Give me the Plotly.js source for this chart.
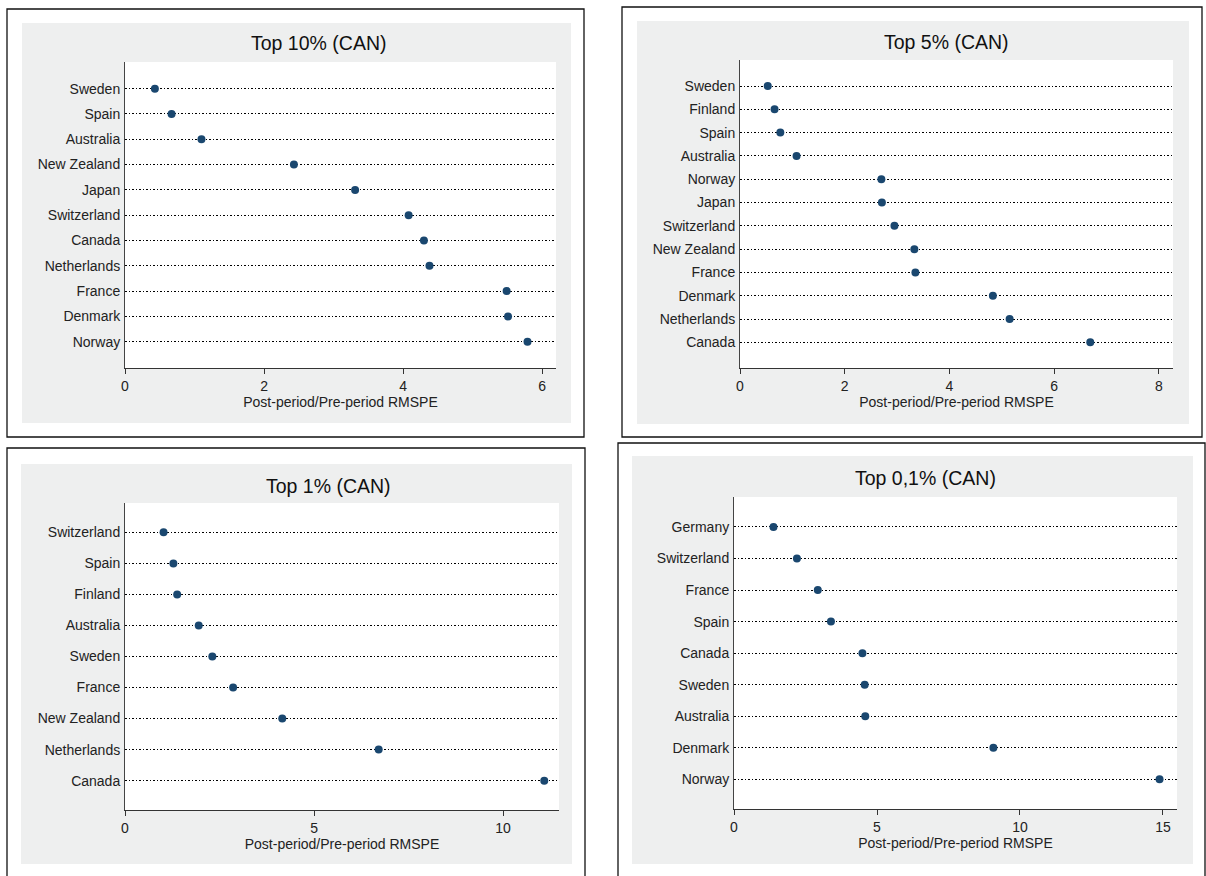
<!DOCTYPE html>
<html>
<head>
<meta charset="utf-8">
<script src="https://cdn.plot.ly/plotly-3.0.1.min.js"></script>
<style>
  html, body { margin: 0; padding: 0; background: #ffffff; }
  #chart { width: 1206px; height: 876px; }
</style>
</head>
<body>
<div id="chart"></div>
<script>
// ---------------- data ----------------
var top10Countries = ["Sweden", "Spain", "Australia", "New Zealand", "Japan", "Switzerland", "Canada", "Netherlands", "France", "Denmark", "Norway"];
var top10Values    = [0.43, 0.67, 1.10, 2.43, 3.31, 4.08, 4.30, 4.38, 5.49, 5.51, 5.79];

var top5Countries  = ["Sweden", "Finland", "Spain", "Australia", "Norway", "Japan", "Switzerland", "New Zealand", "France", "Denmark", "Netherlands", "Canada"];
var top5Values     = [0.53, 0.66, 0.77, 1.08, 2.70, 2.71, 2.95, 3.33, 3.35, 4.83, 5.15, 6.69];

var top1Countries  = ["Switzerland", "Spain", "Finland", "Australia", "Sweden", "France", "New Zealand", "Netherlands", "Canada"];
var top1Values     = [1.02, 1.28, 1.38, 1.95, 2.31, 2.86, 4.16, 6.71, 11.09];

var top01Countries = ["Germany", "Switzerland", "France", "Spain", "Canada", "Sweden", "Australia", "Denmark", "Norway"];
var top01Values    = [1.38, 2.20, 2.93, 3.39, 4.49, 4.57, 4.59, 9.07, 14.88];

var panelTitles = ["Top 10% (CAN)", "Top 5% (CAN)", "Top 1% (CAN)", "Top 0,1% (CAN)"];
var xTitle = "Post-period/Pre-period RMSPE";
var xTickVals = [[0, 2, 4, 6], [0, 2, 4, 6, 8], [0, 5, 10], [0, 5, 10, 15]];
var xRanges = [[0, 6.2], [0, 8.27], [0, 11.48], [0, 15.49]];

// ---------------- layout geometry (pixels) ----------------
var W = 1206, H = 876;
function px(x) { return x / W; }
function py(y) { return 1 - y / H; }

var panels = [
  { countries: top10Countries, values: top10Values, plot: [125, 556, 62, 368],  gap: [1.055, 1.04], gray: [22, 571, 23, 423],  border: [7, 584, 9, 437],   title: [318, 43] },
  { countries: top5Countries,  values: top5Values,  plot: [740, 1173, 60, 368], gap: [1.116, 1.10], gray: [637, 1189, 21, 424], border: [622, 1202, 7, 437], title: [946, 42] },
  { countries: top1Countries,  values: top1Values,  plot: [125, 559, 503, 810], gap: [0.945, 0.945], gray: [21, 572, 464, 864], border: [7, 585, 448, 900], title: [328, 486] },
  { countries: top01Countries, values: top01Values, plot: [734, 1177, 497, 809], gap: [0.95, 0.94], gray: [632, 1193, 456, 864], border: [618, 1205, 443, 900], title: [925, 478] }
];

var FONT = "Liberation Sans, Arial, Helvetica, sans-serif";
var NAVY = "#1a476f";
var GRAYBG = "#eeefef";

var data = [];
var layout = {
  width: W, height: H,
  margin: { l: 0, r: 0, t: 0, b: 0 },
  paper_bgcolor: "#ffffff",
  plot_bgcolor: "#ffffff",
  showlegend: false,
  font: { family: FONT, color: "#111111" },
  shapes: [],
  annotations: []
};

// gray panels first, then white plot areas, then borders
panels.forEach(function (p) {
  layout.shapes.push({
    type: "rect", xref: "paper", yref: "paper", layer: "below",
    x0: px(p.gray[0]), x1: px(p.gray[1]), y0: py(p.gray[3]), y1: py(p.gray[2]),
    fillcolor: GRAYBG, line: { width: 0 }
  });
});
panels.forEach(function (p) {
  layout.shapes.push({
    type: "rect", xref: "paper", yref: "paper", layer: "below",
    x0: px(p.plot[0]), x1: px(p.plot[1]), y0: py(p.plot[3]), y1: py(p.plot[2]),
    fillcolor: "#ffffff", line: { width: 0 }
  });
});
panels.forEach(function (p) {
  layout.shapes.push({
    type: "rect", xref: "paper", yref: "paper", layer: "below",
    x0: px(p.border[0]), x1: px(p.border[1]), y0: py(p.border[3]), y1: py(p.border[2]),
    fillcolor: "rgba(0,0,0,0)", line: { color: "#111111", width: 1.3 }
  });
});

panels.forEach(function (p, i) {
  var n = i + 1;
  var xa = n === 1 ? "x" : "x" + n;
  var ya = n === 1 ? "y" : "y" + n;
  var xKey = n === 1 ? "xaxis" : "xaxis" + n;
  var yKey = n === 1 ? "yaxis" : "yaxis" + n;

  data.push({
    type: "scatter", mode: "markers",
    x: p.values, y: p.countries,
    xaxis: xa, yaxis: ya,
    marker: { color: NAVY, size: 8, line: { width: 0 } },
    hoverinfo: "x+y"
  });

  layout[xKey] = {
    domain: [px(p.plot[0]), px(p.plot[1])],
    anchor: ya,
    range: xRanges[i],
    tickmode: "array",
    tickvals: xTickVals[i],
    ticktext: xTickVals[i].map(String),
    ticks: "outside", ticklen: 5, tickwidth: 1, tickcolor: "#333333",
    showline: true, linecolor: "#333333", linewidth: 1,
    showgrid: false, zeroline: false,
    automargin: false,
    tickfont: { family: FONT, size: 14, color: "#222222" },
    title: { text: xTitle, standoff: 2, font: { family: FONT, size: 14, color: "#222222" } }
  };

  var nCat = p.countries.length;
  layout[yKey] = {
    domain: [py(p.plot[3]), py(p.plot[2])],
    anchor: xa,
    type: "category",
    categoryorder: "array",
    categoryarray: p.countries,
    range: [nCat - 1 + p.gap[1], -p.gap[0]],
    ticks: "",
    ticklabelstandoff: 1,
    showline: true, linecolor: "#444444", linewidth: 1,
    showgrid: true, gridcolor: "#000000", gridwidth: 1, griddash: "1.5px,2px",
    zeroline: false,
    automargin: false,
    tickfont: { family: FONT, size: 14, color: "#222222" }
  };

  layout.annotations.push({
    text: panelTitles[i],
    xref: "paper", yref: "paper",
    x: px(p.title[0]), y: py(p.title[1]),
    xanchor: "center", yanchor: "middle",
    showarrow: false,
    font: { family: FONT, size: 19.5, color: "#111111" }
  });
});

Plotly.newPlot("chart", data, layout, { displayModeBar: false, staticPlot: true });
</script>
</body>
</html>
